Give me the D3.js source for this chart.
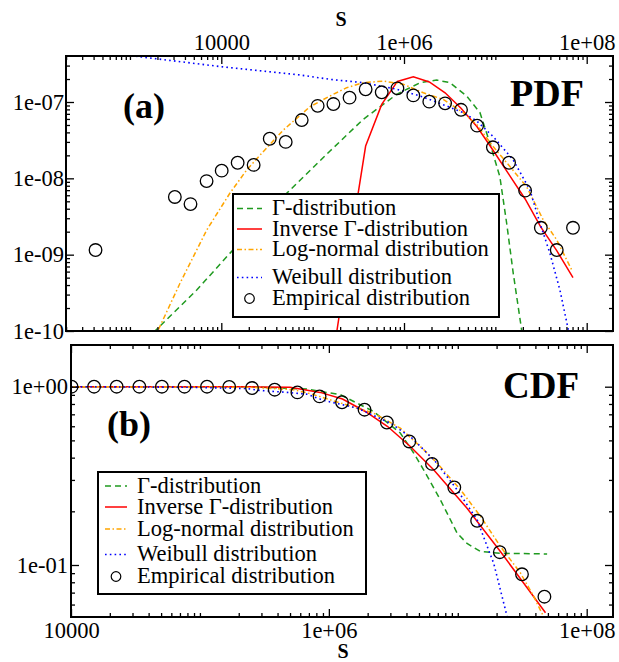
<!DOCTYPE html>
<html>
<head>
<meta charset="utf-8">
<script src="https://cdn.jsdelivr.net/npm/d3@7"></script>
<style>
  html, body { margin: 0; padding: 0; background: #fff; }
  svg { display: block; font-family: "Liberation Serif", "Times New Roman", serif; }
</style>
</head>
<body>
<svg id="chart" width="619" height="662"></svg>
<script>
// ---------- data: probability density (panel a) ----------
const pdfSizes = [420, 3100, 4600, 6900, 10100, 15100, 22600, 33900, 50700, 75900, 113500,
  168700, 253500, 380200, 570200, 847200, 1265000, 1892000, 2818000, 4207000, 6310000,
  9397000, 14130000, 21180000, 31480000, 46990000, 70790000];
const pdfEmpirical = [1.15e-9, 5.7e-9, 4.6e-9, 9.2e-9, 1.26e-8, 1.6e-8, 1.5e-8, 3.3e-8, 3.0e-8,
  5.8e-8, 8.9e-8, 9.4e-8, 1.14e-7, 1.47e-7, 1.34e-7, 1.51e-7, 1.22e-7, 1.01e-7, 9.6e-8, 7.9e-8,
  4.9e-8, 2.55e-8, 1.6e-8, 6.9e-9, 2.25e-9, 1.15e-9, 2.25e-9];

const gammaPdfS = [1500, 1880, 5380, 12400, 52000, 155000, 358000, 832000, 1500000, 2280000,
  3190000, 4850000, 6790000, 8730000, 11200000, 13300000, 15700000, 19400000, 21000000];
const gammaPdf = [7.7e-11, 1.0e-10, 3.44e-10, 1.04e-9, 6.37e-9, 2.28e-8, 5.93e-8, 1.26e-7, 1.79e-7,
  1.94e-7, 1.79e-7, 1.2e-7, 7.24e-8, 2.88e-8, 1.05e-8, 2.58e-9, 5.7e-10, 1.03e-10, 5e-11];

const invGammaPdfS = [168700, 253500, 380200, 570200, 847200, 1265000, 1892000, 2818000, 4207000,
  6310000, 9397000, 14130000, 21180000, 31480000, 46990000, 70790000];
const invGammaPdf = [5e-11, 1.24e-9, 2.65e-8, 9.3e-8, 1.86e-7, 2.14e-7, 1.83e-7, 1.32e-7, 8.3e-8,
  4.74e-8, 2.35e-8, 1.12e-8, 5.36e-9, 2.3e-9, 1.13e-9, 4.99e-10];

const logNormPdfS = [1800, 2040, 3530, 6920, 12400, 19000, 27700, 47800, 93500, 155000, 236000,
  358000, 593000, 982000, 1630000, 2690000, 4460000, 6310000, 9500000, 14500000, 22000000,
  33500000, 47000000, 68600000];
const logNormPdf = [7.7e-11, 1.03e-10, 4.22e-10, 2.1e-9, 6.37e-9, 1.29e-8, 2.13e-8, 4.3e-8, 8.67e-8,
  1.2e-7, 1.54e-7, 1.79e-7, 1.88e-7, 1.71e-7, 1.32e-7, 1.08e-7, 7.24e-8, 5.0e-8, 2.59e-8, 1.42e-8,
  7.76e-9, 2.84e-9, 1.56e-9, 6.3e-10];

const weibullPdfS = [500, 1090, 10000, 72800, 155000, 358000, 832000, 1500000, 2930000, 4460000,
  6250000, 9500000, 15700000, 23900000, 30800000, 39600000, 50900000, 63000000, 70000000];
const weibullPdf = [4.5e-7, 4.01e-7, 2.9e-7, 2.26e-7, 1.98e-7, 1.79e-7, 1.47e-7, 1.2e-7, 8.87e-8,
  7.24e-8, 5.64e-8, 3.51e-8, 1.74e-8, 7.03e-9, 2.58e-9, 1.04e-9, 3.44e-10, 1.03e-10, 4e-11];

// ---------- data: cumulative (panel b) ----------
const cdfSizes = [10100, 15100, 22600, 33900, 50700, 75900, 113500, 168700, 253500, 380200,
  570200, 847200, 1265000, 1892000, 2818000, 4207000, 6310000, 9397000, 14130000, 21180000,
  31480000, 46990000];
const cdfEmpirical = [1.0, 1.0, 1.0, 1.0, 1.0, 1.0, 1.0, 0.996, 0.983, 0.962, 0.929, 0.882, 0.818,
  0.743, 0.630, 0.493, 0.369, 0.272, 0.177, 0.118, 0.0887, 0.0664];

const gammaCdfS = [10000, 245000, 676000, 1227000, 2223000, 3581000, 4550000, 5433000, 7328000,
  9886000, 11800000, 15000000, 21430000, 49320000];
const gammaCdf = [1.0, 1.0, 0.970, 0.902, 0.726, 0.550, 0.425, 0.342, 0.232, 0.151, 0.132, 0.119,
  0.1164, 0.1153];

const invGammaCdfS = [10000, 245000, 500000, 857000, 1276000, 1919000, 2858000, 4285000, 6500000,
  11800000, 21400000, 32500000, 47900000];
const invGammaCdf = [1.0, 0.998, 0.993, 0.929, 0.853, 0.726, 0.598, 0.462, 0.342, 0.208, 0.119,
  0.079, 0.054];

const logNormCdfS = [10000, 245000, 530000, 718000, 1227000, 2223000, 3581000, 5433000, 6902000,
  10470000, 15000000, 21430000, 30620000, 38820000, 46450000];
const logNormCdf = [1.0, 0.993, 0.962, 0.914, 0.811, 0.711, 0.586, 0.444, 0.373, 0.265, 0.1875,
  0.127, 0.0902, 0.0667, 0.0511];

const weibullCdfS = [10000, 79100, 231000, 293000, 473000, 676000, 910000, 1652000, 3000000,
  4416000, 6700000, 9890000, 14130000, 19010000, 24150000];
const weibullCdf = [1.0, 0.993, 0.977, 0.953, 0.929, 0.908, 0.838, 0.759, 0.625, 0.515, 0.381,
  0.264, 0.179, 0.102, 0.0513];

// ---------- axis ticks and labels ----------
const sizeTicks = [1e4, 1e6, 1e8];
const sizeTickLabels = ["10000", "1e+06", "1e+08"];
const pdfTicks = [1e-7, 1e-8, 1e-9, 1e-10];
const pdfTickLabels = ["1e-07", "1e-08", "1e-09", "1e-10"];
const cdfTicks = [1, 0.1];
const cdfTickLabels = ["1e+00", "1e-01"];
const legendLabels = ["\u0393-distribution", "Inverse \u0393-distribution",
  "Log-normal distribution", "Weibull distribution", "Empirical distribution"];

// ---------- drawing ----------
const FONT = '"Liberation Serif", "Times New Roman", serif';
const svg = d3.select("#chart");
svg.append("rect").attr("width", 619).attr("height", 662).attr("fill", "#fff");

const styles = [
  { color: "#1f9a1f", dash: "6,4", width: 1.5 },          // gamma
  { color: "#ff0000", dash: null, width: 1.5 },           // inverse gamma
  { color: "#ffa500", dash: "5,2.5,1.5,2.5", width: 1.5 }, // log-normal
  { color: "#0000ff", dash: "1.6,3.2", width: 1.6 }       // weibull
];

function minorTicks(dom, majors) {
  const lo = Math.min(dom[0], dom[1]), hi = Math.max(dom[0], dom[1]);
  const out = [];
  for (let e = Math.floor(Math.log10(lo)) - 1; e <= Math.ceil(Math.log10(hi)); e++) {
    for (let k = 1; k <= 9; k++) {
      const v = k * Math.pow(10, e);
      if (v > lo * 1.002 && v < hi / 1.002 && !majors.some(m => Math.abs(m / v - 1) < 1e-6)) out.push(v);
    }
  }
  return out;
}

function drawTicks(g, f, x, y, cfg) {
  const xMinor = minorTicks([x.invert(f.left), x.invert(f.right)], cfg.xMajors);
  const yMinor = minorTicks([y.invert(f.bottom), y.invert(f.top)], cfg.yMajors);
  const specs = [
    { make: d3.axisTop, t: `translate(0,${f.top})`, s: x, majors: cfg.xMajors, minors: xMinor,
      labels: cfg.xEdge === "top" ? cfg.xLabels : null, pad: cfg.xPad },
    { make: d3.axisBottom, t: `translate(0,${f.bottom})`, s: x, majors: cfg.xMajors, minors: xMinor,
      labels: cfg.xEdge === "bottom" ? cfg.xLabels : null, pad: cfg.xPad },
    { make: d3.axisLeft, t: `translate(${f.left},0)`, s: y, majors: cfg.yMajors, minors: yMinor,
      labels: cfg.yLabels, pad: cfg.yPad },
    { make: d3.axisRight, t: `translate(${f.right},0)`, s: y, majors: cfg.yMajors, minors: yMinor,
      labels: null, pad: 0 }
  ];
  specs.forEach(sp => {
    const major = sp.make(sp.s).tickValues(sp.majors).tickSizeInner(-8).tickSizeOuter(0)
      .tickPadding(sp.pad).tickFormat((d, i) => sp.labels ? sp.labels[i] : "");
    g.append("g").attr("transform", sp.t).call(major);
    const minor = sp.make(sp.s).tickValues(sp.minors).tickSizeInner(-4).tickSizeOuter(0).tickFormat("");
    g.append("g").attr("transform", sp.t).call(minor);
  });
  g.selectAll(".domain").remove();
  g.selectAll(".tick line").attr("stroke", "#000").attr("stroke-width", 1.3);
  g.selectAll(".tick text").attr("fill", "#000")
    .style("font-family", FONT).style("font-size", "22.5px");
}

function drawPanel(id, f, x, y, curves, pts, cfg) {
  const g = svg.append("g");
  g.append("clipPath").attr("id", id).append("rect")
    .attr("x", f.left).attr("y", f.top).attr("width", f.right - f.left).attr("height", f.bottom - f.top);
  const plot = g.append("g").attr("clip-path", `url(#${id})`);
  const line = d3.line().x(d => x(d[0])).y(d => y(d[1]));
  curves.forEach((c, i) => {
    const st = styles[i];
    plot.append("path").datum(d3.zip(c[0], c[1])).attr("d", line)
      .attr("fill", "none").attr("stroke", st.color).attr("stroke-width", st.width)
      .attr("stroke-dasharray", st.dash);
  });
  plot.selectAll("circle.emp").data(d3.zip(pts[0], pts[1])).join("circle")
    .attr("class", "emp").attr("cx", d => x(d[0])).attr("cy", d => y(d[1])).attr("r", 6.3)
    .attr("fill", "none").attr("stroke", "#000").attr("stroke-width", 1.3);

  drawTicks(g, f, x, y, cfg);

  // legend
  const L = cfg.legend;
  const lg = g.append("g");
  lg.append("rect").attr("x", L.x).attr("y", L.y).attr("width", L.w).attr("height", L.h)
    .attr("fill", "#fff").attr("stroke", "#000").attr("stroke-width", 2);
  legendLabels.forEach((lab, i) => {
    const yb = L.rows[i];
    if (i < 4) {
      const st = styles[i];
      lg.append("line").attr("x1", L.sx[0]).attr("x2", L.sx[1]).attr("y1", yb - 6.5).attr("y2", yb - 6.5)
        .attr("stroke", st.color).attr("stroke-width", st.width).attr("stroke-dasharray", st.dash);
    } else {
      lg.append("circle").attr("cx", (L.sx[0] + L.sx[1]) / 2).attr("cy", yb - 6.5).attr("r", 4.8)
        .attr("fill", "none").attr("stroke", "#000").attr("stroke-width", 1.2);
    }
    lg.append("text").attr("x", L.tx).attr("y", yb).text(lab)
      .style("font-family", FONT).style("font-size", "22.5px").attr("fill", "#000");
  });

  g.append("rect").attr("x", f.left).attr("y", f.top).attr("width", f.right - f.left)
    .attr("height", f.bottom - f.top).attr("fill", "none").attr("stroke", "#000").attr("stroke-width", 2);
  return g;
}

// panel (a): density
const pdfFrame = { left: 66, top: 56, right: 613, bottom: 331 };
const xPdf = d3.scaleLog().domain([1e4, 1e8]).range([221.3, 586.7]);
const yPdf = d3.scaleLog().domain([1e-10, 1e-7]).range([331, 102]);
drawPanel("clipPdf", pdfFrame, xPdf, yPdf,
  [[gammaPdfS, gammaPdf], [invGammaPdfS, invGammaPdf], [logNormPdfS, logNormPdf], [weibullPdfS, weibullPdf]],
  [pdfSizes, pdfEmpirical],
  { xMajors: sizeTicks, xLabels: sizeTickLabels, xEdge: "top", xPad: 6,
    yMajors: pdfTicks, yLabels: pdfTickLabels, yPad: 2,
    legend: { x: 233, y: 194, w: 266, h: 123, rows: [215, 235.5, 256, 284, 305], sx: [237, 262], tx: 272 } });

// panel (b): cumulative
const cdfFrame = { left: 71, top: 345, right: 613, bottom: 617 };
const xCdf = d3.scaleLog().domain([1e4, 1e8]).range([71, 586.7]);
const yCdf = d3.scaleLog().domain([0.1, 1]).range([565, 386.7]);
drawPanel("clipCdf", cdfFrame, xCdf, yCdf,
  [[gammaCdfS, gammaCdf], [invGammaCdfS, invGammaCdf], [logNormCdfS, logNormCdf], [weibullCdfS, weibullCdf]],
  [cdfSizes, cdfEmpirical],
  { xMajors: sizeTicks, xLabels: sizeTickLabels, xEdge: "bottom", xPad: 5,
    yMajors: cdfTicks, yLabels: cdfTickLabels, yPad: 3,
    legend: { x: 98, y: 472, w: 268, h: 122, rows: [492.5, 513.5, 535.5, 561, 583], sx: [105, 127], tx: 137 } });

// titles and axis names
function label(txt, x, y, size, anchor) {
  svg.append("text").attr("x", x).attr("y", y).text(txt).attr("text-anchor", anchor || "start")
    .style("font-family", FONT).style("font-weight", "bold").style("font-size", size + "px").attr("fill", "#000");
}
label("(a)", 123, 117.5, 36);
label("PDF", 510, 106, 38);
label("(b)", 107, 436, 36);
label("CDF", 503, 398, 37);
label("S", 341, 26, 20, "middle");
label("S", 343, 658, 20, "middle");
</script>
</body>
</html>
